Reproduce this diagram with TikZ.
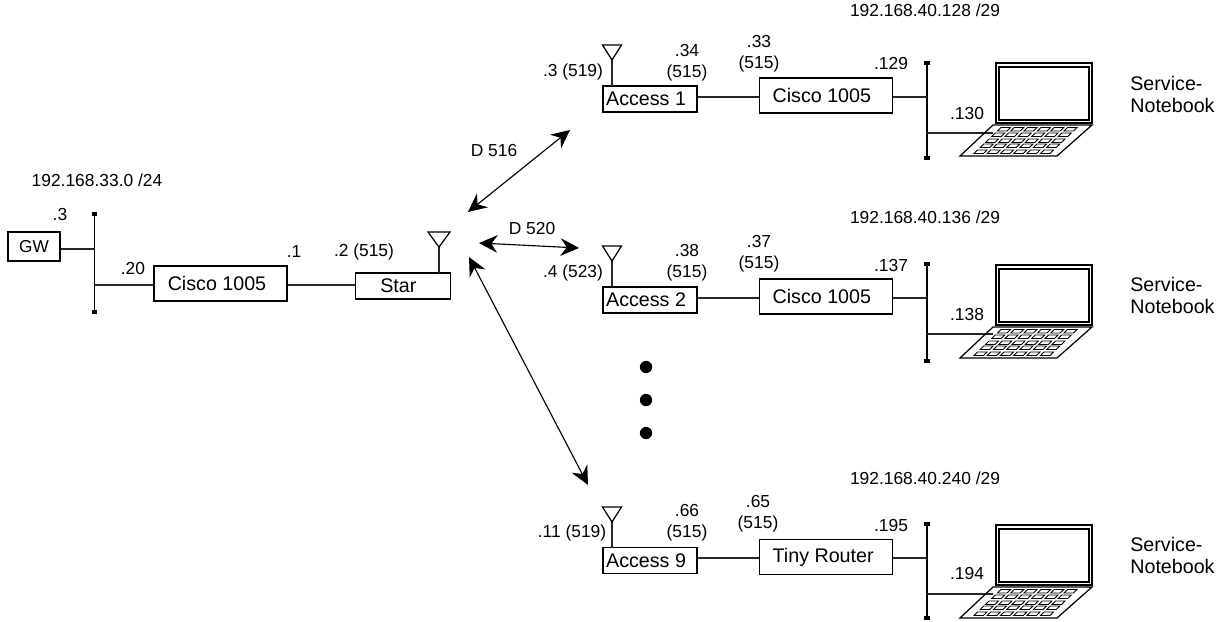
\documentclass[tikz,border=0pt]{standalone}
\usepackage{fontspec}
\setmainfont{Liberation Sans}
\usetikzlibrary{positioning,arrows.meta}
\tikzset{
  device-node/.style={draw=black, line width=0.75pt, inner sep=0pt, font=\fontsize{11.2}{13}\selectfont, align=center},
  access-node/.style={device-node, minimum width=1.88cm, minimum height=0.52cm},
  router-node/.style={device-node, minimum width=2.66cm, minimum height=0.7cm},
  addr-label/.style={font=\fontsize{9.9}{12}\selectfont, align=center, inner sep=0pt},
  name-label/.style={font=\fontsize{11.2}{12.5}\selectfont, align=left, inner sep=0pt, anchor=west},
  link-line/.style={line width=0.85pt, draw=black!85},
  bus-line/.style={line width=0.85pt, draw=black, {Square[length=2pt,width=3pt]}-{Square[length=2pt,width=3pt]}},
  radio-arrow/.style={{Stealth[length=10.5pt,width=10pt,inset=3.5pt]}-{Stealth[length=10.5pt,width=10pt,inset=3.5pt]}, line width=0.65pt},
  dot-node/.style={circle, fill=black, minimum size=7pt, inner sep=0pt},
  pics/antenna/.style={code={
    \draw[line width=0.85pt, draw=black!85] (0,0) -- (0,-26);
    \draw[line width=0.7pt] (0,-26) -- (-#1,-41) -- (#1,-41) -- cycle;
  }},
  pics/notebook/.style={code={
    \draw[line width=0.85pt] (0,0) rectangle (96,60);
    \draw[line width=0.7pt] (3,4) rectangle (93,57);
    \draw[line width=0.7pt] (-3,62) -- (96,62) -- (61,93) -- (-36,93) -- cycle;
    \foreach \yy in {64.5,70,76,81,87} {
      \foreach \key in {0,...,5} {
        \draw[line width=0.5pt] ({5-(\yy-64.5)*1.05+\key*13.3},\yy) -- ++(9.5,0) -- ++(-3.5,3.5) -- ++(-9.5,0) -- cycle;
      }
    }
  }}
}
\begin{document}
\begin{tikzpicture}[x=0.02cm, y=-0.02cm]
\useasboundingbox (0,0) rectangle (1221,622);

% Left network
\node[device-node, font=\fontsize{9.8}{12}\selectfont, minimum width=1.04cm, minimum height=0.58cm] (gw) at (34,246.5) {GW};
\node[router-node] (cisco0) at (220.5,283.5) {Cisco 1005\hspace{4pt}};
\node[device-node, right=1.34cm of cisco0, yshift=-0.05cm, minimum width=1.9cm, minimum height=0.52cm] (star) {Star\hspace{5pt}};
\coordinate (bus0-top) at (94.5,212);
\coordinate (bus0-bot) at (94.5,314);
\coordinate (tap0-gw) at (94.5,249);
\coordinate (tap0-cisco) at (94.5,285);
\draw[bus-line] (bus0-top) -- (bus0-bot);
\draw[link-line] (gw.east |- tap0-gw) -- (tap0-gw);
\draw[link-line] (cisco0.west |- tap0-cisco) -- (tap0-cisco);
\draw[link-line] (cisco0.east |- tap0-cisco) -- (star.west |- tap0-cisco);
\pic at (439,273) {antenna=11};

% Branch 1
\node[access-node] (access1) at (650,99) {Access 1\hspace{4.5pt}};
\node[router-node, right=1.22cm of access1, yshift=0.07cm] (cisco1) {Cisco 1005\hspace{4.5pt}};
\coordinate (bus1-top) at (927,61);
\coordinate (bus1-bot) at (927,160);
\coordinate (tap1-in) at (927,97);
\coordinate (tap1-note) at (927,133);
\coordinate (note1) at (996,63);
\draw[bus-line] (bus1-top) -- (bus1-bot);
\draw[link-line] (access1.east |- tap1-in) -- (cisco1.west |- tap1-in);
\draw[link-line] (cisco1.east |- tap1-in) -- (tap1-in);
\draw[link-line] (tap1-note) -- (tap1-note -| 993,0);
\pic at (612,86) {antenna=9.5};
\pic at (note1) {notebook};

% Branch 2
\node[access-node] (access2) at (650,300) {Access 2\hspace{4.5pt}};
\node[router-node, right=1.22cm of access2, yshift=0.07cm] (cisco2) {Cisco 1005\hspace{4.5pt}};
\coordinate (bus2-top) at (927,262);
\coordinate (bus2-bot) at (927,363);
\coordinate (tap2-in) at (927,298);
\coordinate (tap2-note) at (927,334);
\coordinate (note2) at (996,265);
\draw[bus-line] (bus2-top) -- (bus2-bot);
\draw[link-line] (access2.east |- tap2-in) -- (cisco2.west |- tap2-in);
\draw[link-line] (cisco2.east |- tap2-in) -- (tap2-in);
\draw[link-line] (tap2-note) -- (tap2-note -| 993,0);
\pic at (612,287) {antenna=9.5};
\pic at (note2) {notebook};

% Branch 9
\node[access-node] (access9) at (650,560.5) {Access 9\hspace{4.5pt}};
\node[router-node, right=1.22cm of access9, yshift=0.07cm] (router9) {Tiny Router\hspace{3pt}};
\coordinate (bus9-top) at (927,522);
\coordinate (bus9-bot) at (927,620);
\coordinate (tap9-in) at (927,558);
\coordinate (tap9-note) at (927,594);
\coordinate (note9) at (996,525);
\draw[bus-line] (bus9-top) -- (bus9-bot);
\draw[link-line] (access9.east |- tap9-in) -- (router9.west |- tap9-in);
\draw[link-line] (router9.east |- tap9-in) -- (tap9-in);
\draw[link-line] (tap9-note) -- (tap9-note -| 993,0);
\pic at (612,548) {antenna=9.5};
\pic at (note9) {notebook};

% Radio links
\coordinate (hub1) at (468,212);
\coordinate (end1) at (570,130);
\coordinate (hub2) at (479,243);
\coordinate (end2) at (579,248);
\coordinate (hub9) at (469,257);
\coordinate (end9) at (588,485);
\draw[radio-arrow] (hub1) -- (end1);
\draw[radio-arrow] (hub2) -- (end2);
\draw[radio-arrow] (hub9) -- (end9);
\node[addr-label] (d516) at (494,151) {D 516};
\node[addr-label] (d520) at (532,229) {D 520};

% Dots
\node[dot-node] (dot1) at (646,367) {};
\node[dot-node] (dot2) at (646,400) {};
\node[dot-node] (dot3) at (646,433) {};

% Addresses, left
\node[addr-label] (net0) at (97,180) {192.168.33.0 /24};
\node[addr-label] (gw-addr) at (60,215) {.3};
\node[addr-label] (c0-in) at (133,269) {.20};
\node[addr-label] (c0-out) at (294,252) {.1};
\node[addr-label] (star-addr) at (364,252) {.2 (515)};

% Addresses, branch 1
\node[addr-label] (net1) at (925,10) {192.168.40.128 /29};
\node[addr-label] (a1-radio) at (573,72) {.3 (519)};
\node[addr-label] (a1-eth) at (687,62.5) {.34\\(515)};
\node[addr-label] (c1-in) at (759,53.5) {.33\\(515)};
\node[addr-label] (c1-out) at (891,64) {.129};
\node[addr-label] (n1-addr) at (967,114) {.130};
\node[name-label] (n1-name) at (1130,94) {Service-\\Notebook};

% Addresses, branch 2
\node[addr-label] (net2) at (925,217) {192.168.40.136 /29};
\node[addr-label] (a2-radio) at (573,273) {.4 (523)};
\node[addr-label] (a2-eth) at (687,263) {.38\\(515)};
\node[addr-label] (c2-in) at (759,253.5) {.37\\(515)};
\node[addr-label] (c2-out) at (891,266) {.137};
\node[addr-label] (n2-addr) at (967,315) {.138};
\node[name-label] (n2-name) at (1130,295) {Service-\\Notebook};

% Addresses, branch 9
\node[addr-label] (net9) at (925,478) {192.168.40.240 /29};
\node[addr-label] (a9-radio) at (572,533) {.11 (519)};
\node[addr-label] (a9-eth) at (687,523) {.66\\(515)};
\node[addr-label] (r9-in) at (758,514) {.65\\(515)};
\node[addr-label] (r9-out) at (891,526) {.195};
\node[addr-label] (n9-addr) at (967,574) {.194};
\node[name-label] (n9-name) at (1130,555) {Service-\\Notebook};
\end{tikzpicture}
\end{document}
